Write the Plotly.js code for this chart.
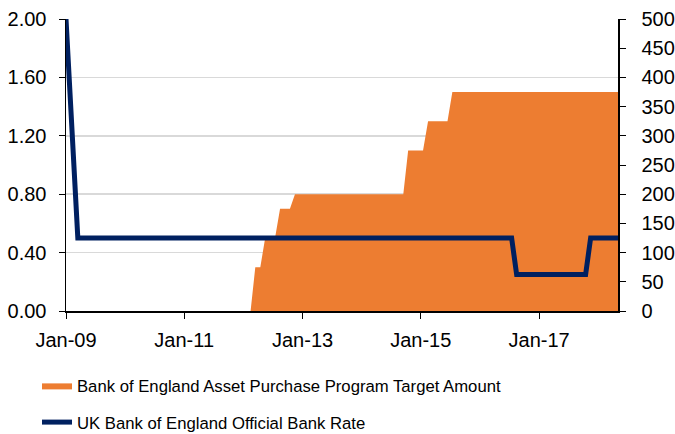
<!DOCTYPE html>
<html>
<head>
<meta charset="utf-8">
<script src="https://cdn.plot.ly/plotly-3.0.1.min.js"></script>
<style>html,body{margin:0;padding:0;background:#fff;}#chart{width:675px;height:434px;}</style>
</head>
<body>
<div id="chart"></div>
<script>
// Bank of England Asset Purchase Program Target Amount (right axis, GBP bn)
const apfDates = ['2012-02-15','2012-03-15','2012-04-15','2012-05-15','2012-07-15','2012-08-15','2012-10-15','2012-11-15','2014-09-15','2014-10-15','2015-01-15','2015-02-15','2015-06-15','2015-07-15','2018-05-15'];
const apfValues = [0,75,75,125,125,175,175,200,200,275,275,325,325,375,375];
// UK Bank of England Official Bank Rate (left axis, %)
const rateDates = ['2009-01-01','2009-03-15','2016-07-15','2016-08-15','2017-10-15','2017-11-15','2018-05-15'];
const rateValues = [2.00,0.50,0.50,0.25,0.25,0.50,0.50];
const xTickVals = ['2009-01-01','2011-01-01','2013-01-01','2015-01-01','2017-01-01'];
const xTickText = ['Jan-09','Jan-11','Jan-13','Jan-15','Jan-17'];
const leftTicks = [0,0.4,0.8,1.2,1.6,2.0];
const rightTicks = [0,50,100,150,200,250,300,350,400,450,500];

const FONT = 'Liberation Sans, Arial, sans-serif';
const traces = [
  {
    x: apfDates, y: apfValues, type: 'scatter', mode: 'lines',
    name: 'Bank of England Asset Purchase Program Target Amount',
    fill: 'tozeroy', fillcolor: '#ED7D31',
    line: {color: '#ED7D31', width: 0},
    yaxis: 'y', legendgroup: 'a', hoverinfo: 'skip'
  },
  {
    x: rateDates, y: rateValues, type: 'scatter', mode: 'lines',
    name: 'UK Bank of England Official Bank Rate',
    line: {color: '#002060', width: 5},
    yaxis: 'y2', legendgroup: 'b', hoverinfo: 'skip'
  }
];
const layout = {
  width: 675, height: 434,
  margin: {l: 66, r: 57, t: 19, b: 123, autoexpand: false},
  paper_bgcolor: '#fff', plot_bgcolor: '#fff',
  font: {family: FONT, size: 20, color: '#000'},
  showlegend: true,
  legend: {
    xref: 'container', yref: 'container',
    x: 0.0548, xanchor: 'left', y: 0.152, yanchor: 'top',
    font: {family: FONT, size: 16.7, color: '#000'},
    traceorder: 'grouped', tracegroupgap: 12, bgcolor: 'rgba(0,0,0,0)'
  },
  xaxis: {
    type: 'date', range: ['2009-01-01','2018-05-03'],
    tickmode: 'array', tickvals: xTickVals, ticktext: xTickText, tickangle: 0,
    ticks: 'outside', ticklen: 6, tickwidth: 1, tickcolor: '#000',
    showline: true, linecolor: '#000', linewidth: 1.5,
    showgrid: false, zeroline: false, automargin: false,
    ticklabelstandoff: 4,
    tickfont: {family: FONT, size: 20, color: '#000'}
  },
  yaxis: {
    side: 'right', range: [0, 500],
    tickmode: 'array', tickvals: rightTicks,
    ticks: 'outside', ticklen: 6, tickwidth: 1, tickcolor: '#000',
    showline: true, linecolor: '#000', linewidth: 1.5,
    showgrid: false, zeroline: false, automargin: false,
    ticklabelstandoff: 12,
    tickfont: {family: FONT, size: 20, color: '#000'}
  },
  yaxis2: {
    side: 'left', overlaying: 'y', range: [0, 2],
    tickmode: 'array', tickvals: leftTicks, tickformat: '.2f',
    ticks: 'outside', ticklen: 6, tickwidth: 1, tickcolor: '#000',
    showline: true, linecolor: '#000', linewidth: 1.5,
    showgrid: true, gridcolor: '#d9d9d9', gridwidth: 1.5, zeroline: false, automargin: false,
    ticklabelstandoff: 8,
    tickfont: {family: FONT, size: 20, color: '#000'}
  }
};
Plotly.newPlot('chart', traces, layout, {displayModeBar: false, staticPlot: true});
</script>
</body>
</html>
